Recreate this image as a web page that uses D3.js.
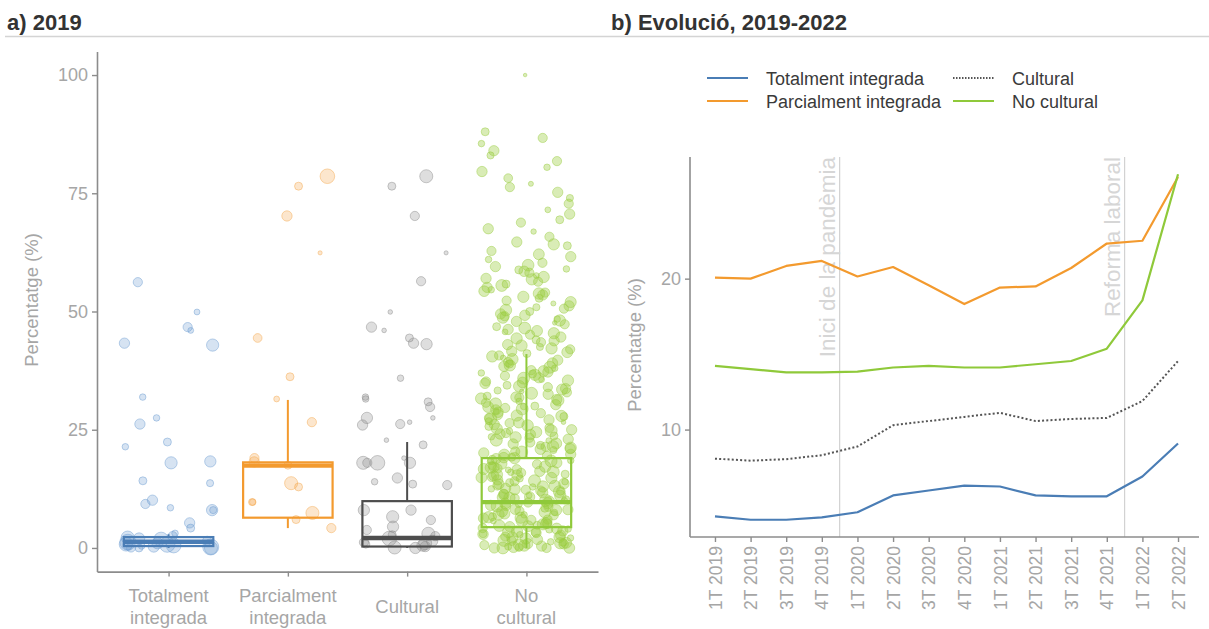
<!DOCTYPE html>
<html><head><meta charset="utf-8">
<script src="https://cdn.jsdelivr.net/npm/d3@7"></script>
<style>body{margin:0;background:#fff} svg{display:block;font-family:"Liberation Sans",Arial,sans-serif}</style>
</head><body><svg id="c" width="1209" height="629"></svg>
<script>
// ---------- DATA: panel a) 2019 ----------
const categories = ["Totalment integrada","Parcialment integrada","Cultural","No cultural"];
const categoryLabelLines = [["Totalment","integrada"],["Parcialment","integrada"],["Cultural"],["No","cultural"]];
const leftTicks = [0,25,50,75,100];
// [percentage, weight]
const pointsTotalment = [[56.2,2],[49.9,0.8],[46.7,2],[46,0.8],[43.3,2.5],[42.9,3.5],[31.9,1],[27.5,1],[26.2,2.5],[22.4,1.5],[21.4,1],[18.3,3],[18,3.5],[14.2,1.5],[13.7,1.2],[10.1,2.5],[9.3,2],[8.5,1],[8,1.2],[8,3],[5.3,2.5],[4.2,1.5],[3.1,1],[2.5,2],[2.2,4],[2,3],[1.8,5],[1.5,2],[1.2,6],[1,3],[0.8,4.5],[0.6,2],[0.5,5],[0.4,1],[0.3,3],[0.2,6],[0.1,2],[0,4],[0,1.5],[0.7,5.5]];
const pointsParcialment = [[78.6,5],[76.5,1.5],[70.2,2.5],[62.4,0.4],[44.4,1.8],[36.2,1.5],[31.5,0.8],[26.6,2],[19,2],[18.2,2.5],[17.5,1.5],[13.7,4],[12.9,1.5],[9.7,1.2],[9.7,1],[7.4,4],[6,1.5],[4.2,2]];
const pointsCultural = [[78.6,4],[76.5,1.5],[70.2,2],[62.4,0.4],[56.4,2],[49.9,0.5],[46.7,2.5],[46,0.5],[43.3,2.5],[43.1,3],[44.4,1.5],[35.9,1],[30.9,1.5],[31.5,1],[31.9,1],[29.8,2],[27.5,0.5],[26.2,2],[27.5,3],[26,2.5],[26.6,0.5],[22.8,0.5],[21.8,1.5],[18,5],[19,0.5],[18,3],[18,2],[18,4],[14.8,2.5],[13.3,2],[13.5,1.5],[14,1],[8,2.5],[8,3],[5.9,2],[6.6,3.5],[3.8,2],[3,4],[2.5,2],[2,5],[1.5,3],[1.2,2],[1,4],[0.8,1.5],[0.5,3],[0.3,2.5],[0.1,4],[0,3],[2.8,1.5],[4.5,3]];
const pointsNoCultural = [
[100,0.3],[88,1.5],[86.7,2],[85.5,1],[84,2.5],[83,1.2],[81.8,2],[80.5,1],[79.6,2.5],[78.2,1.8],[77,0.6],[76.3,2],[75.2,2.5],[74,1.2],[72.8,2],[71.5,0.8],[70.6,2.5],[69.4,1.5],[68.8,2],[67.5,2.5],[66.9,0.7],[65.8,2],[64.7,2.5],[63.9,1.5],[62.8,2],[61.6,2.5],[61,1],[60.3,2],
[59.5,2.5],[58.8,1.5],[58.2,2],[57.6,0.8],[57,2.5],[56.3,2],[55.8,1.5],[55.1,2.5],[54.6,1],[54,2],[53.5,2.5],[52.8,1.5],[52.3,2],[51.7,0.6],[51.2,2.5],[50.6,2],[50,1.5],[49.5,2.5],[49,2],[48.4,1],[47.9,2.5],[47.3,2],[46.8,1.5],[46.2,2.5],[45.7,0.8],[45.1,2],[44.6,2.5],[44,1.5],[43.5,2],[43,2.5],[42.5,1.2],[42,2],[41.6,2.5],[41.1,1.5],[40.7,2],[40.2,0.7],[59,1],[56.8,3],[53.1,3],[48.7,3],[45.4,3],[42.8,3],[50.9,1.2],[47.6,0.5],
[39.7,2.5],[39.3,2],[38.9,1.5],[38.4,2.5],[38,1],[37.6,2],[37.2,2.5],[36.8,1.5],[36.4,2],[36,2.5],[35.6,0.8],[35.2,2],[34.8,2.5],[34.4,1.5],[34,2],[33.7,2.5],[33.3,1.2],[32.9,2],[32.5,2.5],[32.1,1.5],[31.8,2],[31.4,2.5],[31,1],[30.7,2],[30.3,2.5],[30,1.5],[29.6,2],[29.2,2.5],[28.9,0.8],[28.5,2],[28.2,2.5],[27.8,1.5],[27.5,2],[27.1,2.5],[26.8,1.2],[26.4,2],[26.1,2.5],[25.7,1.5],[25.4,2],[25,2.5],[24.7,1],[24.3,2],[24,2.5],[23.7,1.5],[23.3,2],[23,2.5],[22.7,0.8],[22.3,2],[22,2.5],[21.7,1.5],[21.4,2],[21,2.5],[20.7,1.2],[20.4,2],[20.1,2.5],[38.6,3],[35.4,3],[31.6,3],[28,3],[24.5,3],[21.2,3],[33.1,0.5],[26.6,0.5],[37,1],[29.9,1],[23.5,1],
[19.8,2.5],[19.5,2],[19.2,1.5],[18.9,2.5],[18.6,2],[18.3,1],[18,2.5],[17.7,2],[17.4,1.5],[17.1,2.5],[16.8,2],[16.5,0.8],[16.2,2.5],[15.9,2],[15.6,1.5],[15.3,2.5],[15,2],[14.7,1.2],[14.4,2.5],[14.1,2],[13.8,1.5],[13.5,2.5],[13.2,2],[12.9,1],[12.6,2.5],[12.3,2],[12,1.5],[11.7,2.5],[11.4,2],[11.1,0.8],[10.8,2.5],[10.5,2],[10.2,1.5],[9.9,2.5],[9.6,2],[9.3,1.2],[9,2.5],[8.7,2],[8.4,1.5],[8.1,2.5],[7.8,2],[7.5,1],[7.2,2.5],[6.9,2],[6.6,1.5],[6.3,2.5],[6,2],[5.7,0.8],[5.4,2.5],[5.1,2],[4.8,1.5],[4.5,2.5],[4.2,2],[3.9,1.2],[3.6,2.5],[3.3,2],[3,1.5],[2.7,2.5],[2.4,2],[2.1,1],[1.8,2.5],[1.5,2],[1.2,1.5],[0.9,2.5],[0.6,2],[0.3,1.2],[0,2.5],[0,2],[0.1,1.5],[0.4,2.5],[19,3],[17,3],[15.5,3],[13,3],[11,3],[9.5,3],[8,3],[6.5,3],[5,3],[3.5,3],[2,3],[1,3],[0.5,3],[18.5,1],[16,1],[14,1],[12.5,1],[10,1],[7,1],[4,1],[2.8,1],[1.3,1],[16.6,2.2],[12.1,2.2],[8.9,2.2],[5.9,2.2],[3.2,2.2],[0.8,2.2],[14.9,2.8],[10.7,2.8],[7.7,2.8],[4.6,2.8],[2.3,2.8],
[44.3,3],[43.8,2.5],[42.2,3],[41.4,2.8],[40.5,3],[39.9,3.2],[39.1,2.6],[38.2,3.4],[37.4,2.8],[36.6,3],[35.9,3.3],[35,2.7],[34.2,3.1],[33.5,2.9],[32.7,3.4],[31.9,2.6],[31.2,3],[30.5,3.2],[29.8,2.8],[29.4,3.3],[28.7,2.6],[27.9,3],[27.3,3.4],[26.5,2.7],[25.9,3.1],[25.2,2.9],[24.8,3.3],[24.1,2.6],[23.4,3],[22.8,3.4],[22.1,2.8],[21.5,3.1],[20.9,2.7],[20.3,3.3],[19.7,3],[19.1,2.6],[18.4,3.4],[17.8,2.8],[17.2,3.1],[16.7,2.9],[16.1,3.3],[15.4,2.7],[14.8,3],[14.2,3.4],[13.6,2.6],[13.1,3.1],[12.4,2.9],[11.9,3.3],[11.3,2.7],[10.6,3],[10.1,3.4],[9.4,2.8],[8.8,3.1],[8.2,2.6],[7.6,3.3],[7.1,2.9],[6.4,3],[5.8,3.4],[5.2,2.7],[4.7,3.1],[4.1,2.8],[3.4,3.3],[2.9,2.6],[2.2,3],[1.6,3.4],[1.1,2.8],[0.7,3.1],[0.2,2.9],[0,3.3],[0,2.7],
[64.2,3],[62.1,2.8],[59.8,3.2],[58.5,2.6],[57.3,3],[55.5,3.3],[54.3,2.7],[53.8,3.1],[52,2.9],[50.3,3.2],[49.2,2.6],[48.1,3],[46.5,3.3],[45.9,2.8]];
// box plot statistics
const boxLow  = [0,   4.2, 0,   0];
const boxQ1   = [0.4, 6.4, 0.3, 4.4];
const boxMed  = [1.3, 17.4, 2.1, 9.7];
const boxQ3   = [2.3, 18.1, 9.9, 19.0];
const boxHigh = [2.9, 31.3, 22.4, 41.0];

// ---------- DATA: panel b) Evolució ----------
const quarters = ["1T 2019","2T 2019","3T 2019","4T 2019","1T 2020","2T 2020","3T 2020","4T 2020","1T 2021","2T 2021","3T 2021","4T 2021","1T 2022","2T 2022"];
const seriesTotalment   = [6.71,6.61,6.61,6.68,6.84,7.39,7.56,7.73,7.70,7.39,7.36,7.36,8.06,9.38];
const seriesParcialment = [20.1,20.0,21.2,21.7,20.2,21.1,19.4,17.8,19.2,19.3,21.0,23.5,23.8,31.9];
const seriesCultural    = [8.75,8.67,8.73,8.89,9.25,10.2,10.4,10.6,10.8,10.4,10.5,10.55,11.4,13.7];
const seriesNoCultural  = [13.4,13.2,13.0,13.0,13.05,13.3,13.4,13.3,13.3,13.5,13.7,14.5,18.1,32.3];
const rightTicks = [10,20];
const eventLabels = ["Inici de la pandèmia","Reforma laboral"];
const eventAfter = ["4T 2019","4T 2021"];

// ---------- STYLE ----------
const colors = ["#4a7db5","#f39a2e","#4d4d4d","#8fc93a"];
const pointColors = ["#6b9bd0","#f5a64a","#8a8a8a","#9acd40"];
const pointFillOpacity = [0.28,0.28,0.28,0.38];
const axisCol = "#8c8c8c", tickTextCol = "#a6a6a6";

const svg = d3.select("#c");
svg.append("rect").attr("width",1209).attr("height",629).attr("fill","#fff");

// titles
svg.append("text").attr("x",7).attr("y",30).attr("font-size",22).attr("font-weight","bold").attr("fill","#333").text("a) 2019");
svg.append("text").attr("x",611).attr("y",30).attr("font-size",22).attr("font-weight","bold").attr("fill","#333").text("b) Evolució, 2019-2022");
svg.append("line").attr("x1",5).attr("x2",1209).attr("y1",36.5).attr("y2",36.5).attr("stroke","#d4d4d4").attr("stroke-width",1.5);

// ---------- LEFT PANEL ----------
const yL = d3.scaleLinear().domain([-5,105]).range([571.6,51.4]);
const xL = d3.scalePoint().domain(categories).range([97,598]).padding(0.6);
const step = xL.step();
const rScale = d3.scaleSqrt().domain([0,6]).range([0,8]);
const allPoints = [pointsTotalment,pointsParcialment,pointsCultural,pointsNoCultural];

const gPts = svg.append("g");
allPoints.forEach((pts,i)=>{
  const rng = d3.randomLcg(0.137 + i*0.211);
  gPts.selectAll(null).data(pts).join("circle")
    .attr("cx", d => xL(categories[i]) + (rng()-0.5)*0.76*step)
    .attr("cy", d => yL(d[0]))
    .attr("r", d => rScale(d[1]))
    .attr("fill", pointColors[i]).attr("fill-opacity",pointFillOpacity[i])
    .attr("stroke", pointColors[i]).attr("stroke-opacity",0.45).attr("stroke-width",1);
});

// boxes
const bw = 0.75*step;
const gBox = svg.append("g");
categories.forEach((c,i)=>{
  const cx = xL(c);
  gBox.append("line").attr("x1",cx).attr("x2",cx).attr("y1",yL(boxQ3[i])).attr("y2",yL(boxHigh[i])).attr("stroke",colors[i]).attr("stroke-width",2);
  gBox.append("line").attr("x1",cx).attr("x2",cx).attr("y1",yL(boxQ1[i])).attr("y2",yL(boxLow[i])).attr("stroke",colors[i]).attr("stroke-width",2);
  gBox.append("rect").attr("x",cx-bw/2).attr("width",bw).attr("y",yL(boxQ3[i])).attr("height",yL(boxQ1[i])-yL(boxQ3[i]))
    .attr("fill","none").attr("stroke",colors[i]).attr("stroke-width",2.2);
  gBox.append("line").attr("x1",cx-bw/2).attr("x2",cx+bw/2).attr("y1",yL(boxMed[i])).attr("y2",yL(boxMed[i])).attr("stroke",colors[i]).attr("stroke-width",4.4);
});

// axes left
const axL = svg.append("g").attr("transform","translate(97,0)")
  .call(d3.axisLeft(yL).tickValues(leftTicks).tickSize(5).tickSizeOuter(0).tickPadding(4));
const axB = svg.append("g").attr("transform","translate(0,571.6)")
  .call(d3.axisBottom(xL).tickSize(5).tickSizeOuter(0).tickFormat(""));
[axL,axB].forEach(a=>{
  a.select(".domain").attr("stroke",axisCol).attr("stroke-width",1.6);
  a.selectAll(".tick line").attr("stroke",axisCol).attr("stroke-width",1.4);
  a.selectAll(".tick text").attr("fill",tickTextCol).attr("font-size",18).attr("font-family","Liberation Sans, Arial, sans-serif");
});
categories.forEach((c,i)=>{
  const lines = categoryLabelLines[i];
  const t = svg.append("text").attr("text-anchor","middle").attr("font-size",18.5).attr("fill",tickTextCol);
  const y0 = lines.length===1 ? 613 : 602;
  lines.forEach((ln,k)=> t.append("tspan").attr("x",xL(c)).attr("y",y0+k*22).text(ln));
});
svg.append("text").attr("transform","translate(38,300) rotate(-90)").attr("text-anchor","middle")
  .attr("font-size",18.5).attr("fill",tickTextCol).text("Percentatge (%)");

// ---------- RIGHT PANEL ----------
const allSeries = [seriesTotalment,seriesParcialment,seriesCultural,seriesNoCultural];
const ext = d3.extent(allSeries.flat());
const lr = Math.log(ext[1]/ext[0])*0.05;
const yR = d3.scaleLog().domain([ext[0]/Math.exp(lr), ext[1]*Math.exp(lr)]).range([537,157]);
const xR = d3.scalePoint().domain(quarters).range([693.6,1199.4]).padding(0.6);

// event lines
eventAfter.forEach((q,i)=>{
  const idx = quarters.indexOf(q);
  const ex = (xR(quarters[idx]) + xR(quarters[idx+1]))/2;
  svg.append("line").attr("x1",ex).attr("x2",ex).attr("y1",157).attr("y2",537).attr("stroke","#d2d2d2").attr("stroke-width",1.2);
  svg.append("text").attr("transform",`translate(${ex-5},157) rotate(-90)`).attr("text-anchor","end")
    .attr("font-size",22.5).attr("fill","#d6d6d6").text(eventLabels[i]);
});

const line = d3.line().x((d,i)=>xR(quarters[i])).y(d=>yR(d));
allSeries.forEach((s,i)=>{
  svg.append("path").datum(s).attr("d",line).attr("fill","none")
    .attr("stroke", i===2 ? "#555" : colors[i]).attr("stroke-width", i===2 ? 2 : 2.2)
    .attr("stroke-dasharray", i===2 ? "2,2.2" : null).attr("stroke-linejoin","round");
});

const axRL = svg.append("g").attr("transform","translate(690,0)")
  .call(d3.axisLeft(yR).tickValues(rightTicks).tickFormat(d3.format("d")).tickSize(5).tickSizeOuter(0).tickPadding(4));
const axRB = svg.append("g").attr("transform","translate(0,537)")
  .call(d3.axisBottom(xR).tickSize(5).tickSizeOuter(0));
axRL.select(".domain").attr("d","M0,157V537");
axRB.select(".domain").attr("d","M690,0H1199");
[axRL,axRB].forEach(a=>{
  a.select(".domain").attr("stroke",axisCol).attr("stroke-width",1.6);
  a.selectAll(".tick line").attr("stroke",axisCol).attr("stroke-width",1.4);
  a.selectAll(".tick text").attr("fill",tickTextCol).attr("font-size",18).attr("font-family","Liberation Sans, Arial, sans-serif");
});
axRB.selectAll(".tick text").attr("transform","rotate(-90)").attr("x",-9).attr("y",0).attr("dy","0.35em").style("text-anchor","end").attr("font-size",17.5);
svg.append("text").attr("transform","translate(641,345) rotate(-90)").attr("text-anchor","middle")
  .attr("font-size",18.5).attr("fill",tickTextCol).text("Percentatge (%)");

// legend
const legendNames = ["Totalment integrada","Parcialment integrada","Cultural","No cultural"];
const legPos = [[707,78],[707,101],[953,78],[953,101]];
legendNames.forEach((n,i)=>{
  const [lx,ly] = legPos[i];
  svg.append("line").attr("x1",lx).attr("x2",lx+41).attr("y1",ly).attr("y2",ly)
    .attr("stroke", i===2 ? "#555" : colors[i]).attr("stroke-width",2.2)
    .attr("stroke-dasharray", i===2 ? "1.5,1.5" : null);
  svg.append("text").attr("x",lx+59).attr("y",ly+6.5).attr("font-size",18).attr("fill","#3a3a3a").text(n);
});
</script></body></html>
